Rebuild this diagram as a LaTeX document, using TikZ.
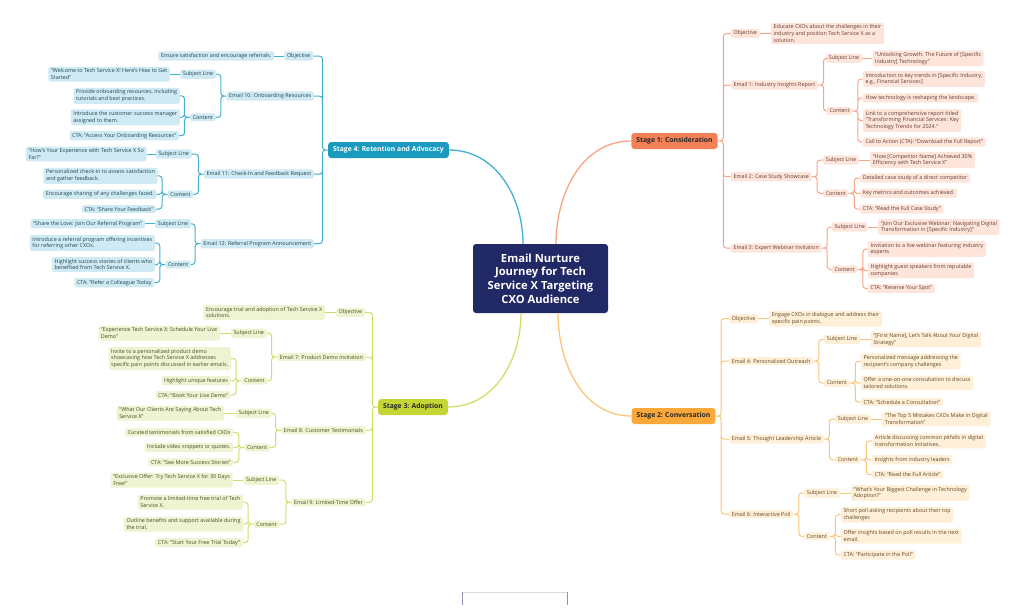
\documentclass[tikz,border=0pt]{standalone}
\usepackage{fontspec}
\setmainfont{Open Sans}
\usepackage{xcolor}
\definecolor{mmNavy}     {RGB}{ 33,  40, 102}
\definecolor{mmCoral}    {RGB}{244, 128,  88}
\definecolor{mmCoralLine}{RGB}{248, 163, 132}
\definecolor{mmCoralFill}{RGB}{253, 229, 220}
\definecolor{mmCoralInk} {RGB}{105,  58,  45}
\definecolor{mmAmber}    {RGB}{250, 168,  58}
\definecolor{mmAmberLine}{RGB}{252, 196, 118}
\definecolor{mmAmberFill}{RGB}{254, 239, 216}
\definecolor{mmAmberInk} {RGB}{100,  72,  35}
\definecolor{mmTeal}     {RGB}{ 26, 154, 190}
\definecolor{mmTealLine} {RGB}{ 66, 176, 208}
\definecolor{mmTealFill} {RGB}{207, 234, 243}
\definecolor{mmTealInk}  {RGB}{ 30,  68,  84}
\definecolor{mmLime}     {RGB}{196, 214,  52}
\definecolor{mmLimeLine} {RGB}{208, 221, 105}
\definecolor{mmLimeFill} {RGB}{238, 243, 209}
\definecolor{mmLimeInk}  {RGB}{ 72,  78,  34}
\definecolor{mmFrameTop} {RGB}{214, 216, 228}
\definecolor{mmFrameSide}{RGB}{140, 146, 180}
\usetikzlibrary{calc}

\begin{document}
\begin{tikzpicture}[
  x=1pt, y=-1pt,
  box/.style={rounded corners=2pt, inner xsep=2.6pt, inner ysep=1.9pt,
              align=left, font=\fontsize{5.4}{6.7}\selectfont},
  stage/.style={rounded corners=3pt, inner xsep=5pt, minimum height=16pt,
                font=\fontsize{6.8}{8}\selectfont\bfseries},
  % one look per stage: fill + text colour, and the branch lines
  b1/.style={box, fill=mmCoralFill, text=mmCoralInk},
  b2/.style={box, fill=mmAmberFill, text=mmAmberInk},
  b3/.style={box, fill=mmLimeFill,  text=mmLimeInk},
  b4/.style={box, fill=mmTealFill,  text=mmTealInk},
  l1/.style={draw=mmCoralLine, line width=1pt, rounded corners=3pt},
  l2/.style={draw=mmAmberLine, line width=1pt, rounded corners=3pt},
  l3/.style={draw=mmLimeLine,  line width=1pt, rounded corners=3pt},
  l4/.style={draw=mmTealLine,  line width=1pt, rounded corners=3pt},
  % elbow branches: right-hand tree and left-hand tree
  rbr/.style={to path={-- ++(5.5,0) |- (\tikztotarget)}},
  lbr/.style={to path={-- ++(-5.5,0) |- (\tikztotarget)}},
]
  \useasboundingbox (0,0) rectangle (1024,611);

  % Central topic
  \node[fill=mmNavy, text=white, rounded corners=3pt, align=center,
        minimum width=135pt, minimum height=69pt,
        font=\fontsize{11.2}{13.7}\selectfont\bfseries]
       (root) at (540.5,278.5)
       {Email Nurture\\Journey for Tech\\Service X Targeting\\CXO Audience};

  % Stages
  \node[stage, fill=mmCoral, text=black!85] (s1) at (674.5,141) {Stage 1: Consideration};
  \node[stage, fill=mmAmber, text=black!85] (s2) at (673.5,416) {Stage 2: Conversation};
  \node[stage, fill=mmLime,  text=black!85] (s3) at (413,407)   {Stage 3: Adoption};
  \node[stage, fill=mmTeal,  text=white]    (s4) at (388.5,150) {Stage 4: Retention and Advocacy};

  \draw[mmTealLine,  line width=1.3pt] ([xshift=-17.5pt]root.north) to[out=90,in=0]    (s4.east);
  \draw[mmCoralLine, line width=1.3pt] ([xshift=15.5pt]root.north)  to[out=90,in=180]  (s1.west);
  \draw[mmLimeLine,  line width=1.3pt] ([xshift=-19.5pt]root.south) to[out=270,in=0]   (s3.east);
  \draw[mmAmberLine, line width=1.3pt] ([xshift=17.5pt]root.south)  to[out=270,in=180] (s2.west);

  % ---------------- Stage 1 (right, top) ----------------
  \node[b1, anchor=west] (s1obj)  at (730.7,33.5) {Objective};
  \node[b1, anchor=west] (s1objt) at (770.7,33.5) {Educate CXOs about the challenges in their\\industry and position Tech Service X as a\\solution.};

  \node[b1, anchor=west] (e1)     at (730.7,85)  {Email 1: Industry Insights Report};
  \node[b1, anchor=west] (e1sub)  at (826,58.3)  {Subject Line};
  \node[b1, anchor=west] (e1subt) at (872.3,58.3) {``Unlocking Growth: The Future of [Specific\\Industry] Technology''};
  \node[b1, anchor=west] (e1con)  at (826.7,111) {Content};
  \node[b1, anchor=west] (e1c1)   at (862.7,79)  {Introduction to key trends in [Specific Industry,\\e.g., Financial Services]};
  \node[b1, anchor=west] (e1c2)   at (862.7,98)  {How technology is reshaping the landscape.};
  \node[b1, anchor=west] (e1c3)   at (862.7,120.5) {Link to a comprehensive report titled\\``Transforming Financial Services: Key\\Technology Trends for 2024.''};
  \node[b1, anchor=west] (e1c4)   at (862.7,142) {Call to Action (CTA): ``Download the Full Report''};

  \node[b1, anchor=west] (e2)     at (730.7,176.7) {Email 2: Case Study Showcase};
  \node[b1, anchor=west] (e2sub)  at (823,160)   {Subject Line};
  \node[b1, anchor=west] (e2subt) at (870,160)   {``How [Competitor Name] Achieved 30\%\\Efficiency with Tech Service X''};
  \node[b1, anchor=west] (e2con)  at (823,193.3) {Content};
  \node[b1, anchor=west] (e2c1)   at (860,178)   {Detailed case study of a direct competitor};
  \node[b1, anchor=west] (e2c2)   at (860,193.3) {Key metrics and outcomes achieved.};
  \node[b1, anchor=west] (e2c3)   at (860,209)   {CTA: ``Read the Full Case Study''};

  \node[b1, anchor=west] (e3)     at (730.7,248) {Email 3: Expert Webinar Invitation};
  \node[b1, anchor=west] (e3sub)  at (831.7,227) {Subject Line};
  \node[b1, anchor=west] (e3subt) at (878,227)   {``Join Our Exclusive Webinar: Navigating Digital\\Transformation in [Specific Industry]''};
  \node[b1, anchor=west] (e3con)  at (831.7,269.5) {Content};
  \node[b1, anchor=west] (e3c1)   at (867.7,249) {Invitation to a live webinar featuring industry\\experts};
  \node[b1, anchor=west] (e3c2)   at (867.7,270.5) {Highlight guest speakers from reputable\\companies};
  \node[b1, anchor=west] (e3c3)   at (867.7,288.5) {CTA: ``Reserve Your Spot''};

  \draw[l1] (s1.east) to[rbr] (s1obj.west) (s1.east) to[rbr] (e1.west)
            (s1.east) to[rbr] (e2.west)    (s1.east) to[rbr] (e3.west);
  \draw[l1] (s1obj.east) -- (s1objt.west);
  \draw[l1] (e1.east) to[rbr] (e1sub.west) (e1.east) to[rbr] (e1con.west);
  \draw[l1] (e1sub.east) -- (e1subt.west);
  \draw[l1] (e1con.east) to[rbr] (e1c1.west) (e1con.east) to[rbr] (e1c2.west)
            (e1con.east) to[rbr] (e1c3.west) (e1con.east) to[rbr] (e1c4.west);
  \draw[l1] (e2.east) to[rbr] (e2sub.west) (e2.east) to[rbr] (e2con.west);
  \draw[l1] (e2sub.east) -- (e2subt.west);
  \draw[l1] (e2con.east) to[rbr] (e2c1.west) (e2con.east) to[rbr] (e2c2.west)
            (e2con.east) to[rbr] (e2c3.west);
  \draw[l1] (e3.east) to[rbr] (e3sub.west) (e3.east) to[rbr] (e3con.west);
  \draw[l1] (e3sub.east) -- (e3subt.west);
  \draw[l1] (e3con.east) to[rbr] (e3c1.west) (e3con.east) to[rbr] (e3c2.west)
            (e3con.east) to[rbr] (e3c3.west);

  % ---------------- Stage 2 (right, bottom) ----------------
  \node[b2, anchor=west] (s2obj)  at (729,318.7) {Objective};
  \node[b2, anchor=west] (s2objt) at (769,318.7) {Engage CXOs in dialogue and address their\\specific pain points.};

  \node[b2, anchor=west] (e4)     at (729,361)   {Email 4: Personalized Outreach};
  \node[b2, anchor=west] (e4sub)  at (824,339.5) {Subject Line};
  \node[b2, anchor=west] (e4subt) at (870.7,339.5) {``[First Name], Let's Talk About Your Digital\\Strategy''};
  \node[b2, anchor=west] (e4con)  at (824,383)   {Content};
  \node[b2, anchor=west] (e4c1)   at (860.7,361.3) {Personalized message addressing the\\recipient's company challenges};
  \node[b2, anchor=west] (e4c2)   at (860.7,383) {Offer a one-on-one consultation to discuss\\tailored solutions.};
  \node[b2, anchor=west] (e4c3)   at (860.7,402) {CTA: ``Schedule a Consultation''};

  \node[b2, anchor=west] (e5)     at (729,439)   {Email 5: Thought Leadership Article};
  \node[b2, anchor=west] (e5sub)  at (835,419)   {Subject Line};
  \node[b2, anchor=west] (e5subt) at (882,419)   {``The Top 5 Mistakes CXOs Make in Digital\\Transformation''};
  \node[b2, anchor=west] (e5con)  at (835,459.8) {Content};
  \node[b2, anchor=west] (e5c1)   at (872.3,441) {Article discussing common pitfalls in digital\\transformation initiatives.};
  \node[b2, anchor=west] (e5c2)   at (871.7,459.8) {Insights from industry leaders};
  \node[b2, anchor=west] (e5c3)   at (871.7,474.7) {CTA: ``Read the Full Article''};

  \node[b2, anchor=west] (e6)     at (729,514)   {Email 6: Interactive Poll};
  \node[b2, anchor=west] (e6sub)  at (804,493)   {Subject Line};
  \node[b2, anchor=west] (e6subt) at (850.7,493) {``What's Your Biggest Challenge in Technology\\Adoption?''};
  \node[b2, anchor=west] (e6con)  at (804,536.3) {Content};
  \node[b2, anchor=west] (e6c1)   at (840.7,514.7) {Short poll asking recipients about their top\\challenges};
  \node[b2, anchor=west] (e6c2)   at (840.7,536.3) {Offer insights based on poll results in the next\\email.};
  \node[b2, anchor=west] (e6c3)   at (840.7,555) {CTA: ``Participate in the Poll''};

  \draw[l2] (s2.east) to[rbr] (s2obj.west) (s2.east) to[rbr] (e4.west)
            (s2.east) to[rbr] (e5.west)    (s2.east) to[rbr] (e6.west);
  \draw[l2] (s2obj.east) -- (s2objt.west);
  \draw[l2] (e4.east) to[rbr] (e4sub.west) (e4.east) to[rbr] (e4con.west);
  \draw[l2] (e4sub.east) -- (e4subt.west);
  \draw[l2] (e4con.east) to[rbr] (e4c1.west) (e4con.east) to[rbr] (e4c2.west)
            (e4con.east) to[rbr] (e4c3.west);
  \draw[l2] (e5.east) to[rbr] (e5sub.west) (e5.east) to[rbr] (e5con.west);
  \draw[l2] (e5sub.east) -- (e5subt.west);
  \draw[l2] (e5con.east) to[rbr] (e5c1.west) (e5con.east) to[rbr] (e5c2.west)
            (e5con.east) to[rbr] (e5c3.west);
  \draw[l2] (e6.east) to[rbr] (e6sub.west) (e6.east) to[rbr] (e6con.west);
  \draw[l2] (e6sub.east) -- (e6subt.west);
  \draw[l2] (e6con.east) to[rbr] (e6c1.west) (e6con.east) to[rbr] (e6c2.west)
            (e6con.east) to[rbr] (e6c3.west);

  % ---------------- Stage 4 (left, top) ----------------
  \node[b4, anchor=east] (s4obj)  at (313.3,56)  {Objective};
  \node[b4, anchor=east] (s4objt) at (274.3,56)  {Ensure satisfaction and encourage referrals.};

  \node[b4, anchor=east] (e10)     at (314,96)    {Email 10: Onboarding Resources};
  \node[b4, anchor=east] (e10sub)  at (216,74.2)  {Subject Line};
  \node[b4, anchor=east] (e10subt) at (170,74.2)  {``Welcome to Tech Service X! Here's How to Get\\Started''};
  \node[b4, anchor=east] (e10con)  at (215.7,117.3) {Content};
  \node[b4, anchor=east] (e10c1)   at (180,95.8)  {Provide onboarding resources, including\\tutorials and best practices.};
  \node[b4, anchor=east] (e10c2)   at (180,117.3) {Introduce the customer success manager\\assigned to them.};
  \node[b4, anchor=east] (e10c3)   at (179,135.7) {CTA: ``Access Your Onboarding Resources''};

  \node[b4, anchor=east] (e11)     at (314,174)   {Email 11: Check-In and Feedback Request};
  \node[b4, anchor=east] (e11sub)  at (191.7,154) {Subject Line};
  \node[b4, anchor=east] (e11subt) at (146.7,154) {``How's Your Experience with Tech Service X So\\Far?''};
  \node[b4, anchor=east] (e11con)  at (193.3,194.3) {Content};
  \node[b4, anchor=east] (e11c1)   at (157.7,175.8) {Personalized check-in to assess satisfaction\\and gather feedback.};
  \node[b4, anchor=east] (e11c2)   at (156.7,194.3) {Encourage sharing of any challenges faced.};
  \node[b4, anchor=east] (e11c3)   at (156,209)   {CTA: ``Share Your Feedback''};

  \node[b4, anchor=east] (e12)     at (314,243.7) {Email 12: Referral Program Announcement};
  \node[b4, anchor=east] (e12sub)  at (191,223.8) {Subject Line};
  \node[b4, anchor=east] (e12subt) at (145,223.8) {``Share the Love: Join Our Referral Program''};
  \node[b4, anchor=east] (e12con)  at (191,264.5) {Content};
  \node[b4, anchor=east] (e12c1)   at (155,243)   {Introduce a referral program offering incentives\\for referring other CXOs.};
  \node[b4, anchor=east] (e12c2)   at (155,264.5) {Highlight success stories of clients who\\benefited from Tech Service X.};
  \node[b4, anchor=east] (e12c3)   at (154.3,282.7) {CTA: ``Refer a Colleague Today};

  \draw[l4] (s4.west) to[lbr] (s4obj.east) (s4.west) to[lbr] (e10.east)
            (s4.west) to[lbr] (e11.east)   (s4.west) to[lbr] (e12.east);
  \draw[l4] (s4obj.west) -- (s4objt.east);
  \draw[l4] (e10.west) to[lbr] (e10sub.east) (e10.west) to[lbr] (e10con.east);
  \draw[l4] (e10sub.west) -- (e10subt.east);
  \draw[l4] (e10con.west) to[lbr] (e10c1.east) (e10con.west) to[lbr] (e10c2.east)
            (e10con.west) to[lbr] (e10c3.east);
  \draw[l4] (e11.west) to[lbr] (e11sub.east) (e11.west) to[lbr] (e11con.east);
  \draw[l4] (e11sub.west) -- (e11subt.east);
  \draw[l4] (e11con.west) to[lbr] (e11c1.east) (e11con.west) to[lbr] (e11c2.east)
            (e11con.west) to[lbr] (e11c3.east);
  \draw[l4] (e12.west) to[lbr] (e12sub.east) (e12.west) to[lbr] (e12con.east);
  \draw[l4] (e12sub.west) -- (e12subt.east);
  \draw[l4] (e12con.west) to[lbr] (e12c1.east) (e12con.west) to[lbr] (e12c2.east)
            (e12con.west) to[lbr] (e12c3.east);

  % ---------------- Stage 3 (left, bottom) ----------------
  \node[b3, anchor=east] (s3obj)  at (365,312.4) {Objective};
  \node[b3, anchor=east] (s3objt) at (325,312.4) {Encourage trial and adoption of Tech Service X\\solutions.};

  \node[b3, anchor=east] (e7)     at (365.7,357)   {Email 7: Product Demo Invitation};
  \node[b3, anchor=east] (e7sub)  at (266.7,333.2) {Subject Line};
  \node[b3, anchor=east] (e7subt) at (220,333.2)   {``Experience Tech Service X: Schedule Your Live\\Demo''};
  \node[b3, anchor=east] (e7con)  at (267.3,380.8) {Content};
  \node[b3, anchor=east] (e7c1)   at (231,358.5)   {Invite to a personalized product demo\\showcasing how Tech Service X addresses\\specific pain points discussed in earlier emails.};
  \node[b3, anchor=east] (e7c2)   at (230.7,380.8) {Highlight unique features};
  \node[b3, anchor=east] (e7c3)   at (230.7,395)   {CTA: ``Book Your Live Demo''};

  \node[b3, anchor=east] (e8)     at (365.7,430.3) {Email 8: Customer Testimonials};
  \node[b3, anchor=east] (e8sub)  at (271.7,413.3) {Subject Line};
  \node[b3, anchor=east] (e8subt) at (224,413.3)   {``What Our Clients Are Saying About Tech\\Service X''};
  \node[b3, anchor=east] (e8con)  at (270,447.5)   {Content};
  \node[b3, anchor=east] (e8c1)   at (233.3,432.3) {Curated testimonials from satisfied CXOs};
  \node[b3, anchor=east] (e8c2)   at (233.3,447.5) {Include video snippets or quotes.};
  \node[b3, anchor=east] (e8c3)   at (233.3,462.3) {CTA: ``See More Success Stories''};

  \node[b3, anchor=east] (e9)     at (365.7,502.3) {Email 9: Limited-Time Offer};
  \node[b3, anchor=east] (e9sub)  at (279.3,480.2) {Subject Line};
  \node[b3, anchor=east] (e9subt) at (232.7,480.2) {``Exclusive Offer: Try Tech Service X for 30 Days\\Free!''};
  \node[b3, anchor=east] (e9con)  at (279.3,524.2) {Content};
  \node[b3, anchor=east] (e9c1)   at (243.3,502.2) {Promote a limited-time free trial of Tech\\Service X.};
  \node[b3, anchor=east] (e9c2)   at (243.3,524.2) {Outline benefits and support available during\\the trial.};
  \node[b3, anchor=east] (e9c3)   at (242.7,542.7) {CTA: ``Start Your Free Trial Today''};

  \draw[l3] (s3.west) to[lbr] (s3obj.east) (s3.west) to[lbr] (e7.east)
            (s3.west) to[lbr] (e8.east)    (s3.west) to[lbr] (e9.east);
  \draw[l3] (s3obj.west) -- (s3objt.east);
  \draw[l3] (e7.west) to[lbr] (e7sub.east) (e7.west) to[lbr] (e7con.east);
  \draw[l3] (e7sub.west) -- (e7subt.east);
  \draw[l3] (e7con.west) to[lbr] (e7c1.east) (e7con.west) to[lbr] (e7c2.east)
            (e7con.west) to[lbr] (e7c3.east);
  \draw[l3] (e8.west) to[lbr] (e8sub.east) (e8.west) to[lbr] (e8con.east);
  \draw[l3] (e8sub.west) -- (e8subt.east);
  \draw[l3] (e8con.west) to[lbr] (e8c1.east) (e8con.west) to[lbr] (e8c2.east)
            (e8con.west) to[lbr] (e8c3.east);
  \draw[l3] (e9.west) to[lbr] (e9sub.east) (e9.west) to[lbr] (e9con.east);
  \draw[l3] (e9sub.west) -- (e9subt.east);
  \draw[l3] (e9con.west) to[lbr] (e9c1.east) (e9con.west) to[lbr] (e9c2.east)
            (e9con.west) to[lbr] (e9c3.east);

  % frame stub at the bottom edge
  \draw[mmFrameTop, line width=0.8pt] (462.7,592.3) -- (567,592.3);
  \draw[mmFrameSide, line width=0.9pt] (462.7,592.3) -- (462.7,605) (567,592.3) -- (567,605);
\end{tikzpicture}
\end{document}
